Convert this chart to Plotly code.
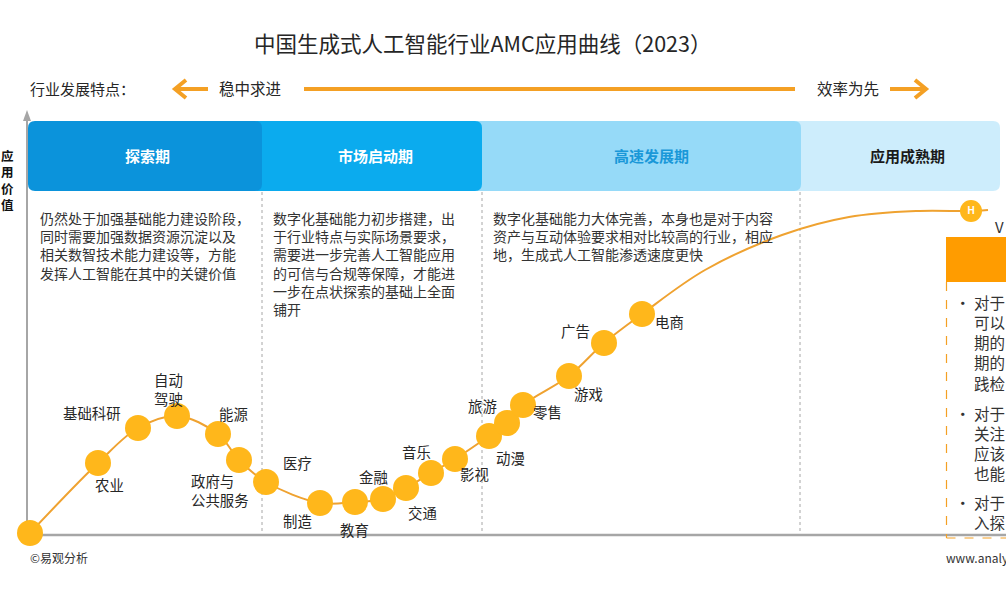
import plotly.graph_objects as go

# ---------------- data ----------------
industries = ["", "农业", "基础科研", "自动驾驶", "能源", "政府与公共服务", "医疗", "制造",
              "教育", "金融", "交通", "音乐", "影视", "动漫", "旅游", "零售", "游戏", "广告", "电商"]
progress = [0, 68, 108, 147, 188, 209, 236, 290, 325, 353, 376, 401, 425, 459, 477, 493, 539, 574, 612]
value = [2, 72, 107, 119, 101, 75, 53, 32, 33, 36, 47, 62, 76, 99, 112, 130, 159, 192, 221]

# continuation of the curve towards maturity (no dots)
tail_progress = [675, 752, 819, 886]
tail_value = [265, 300, 318, 324]
h_progress, h_value = 941, 324
end_progress, end_value = 958, 325

stages = ["探索期", "市场启动期", "高速发展期", "应用成熟期"]
stage_text = [
    ["仍然处于加强基础能力建设阶段，", "同时需要加强数据资源沉淀以及", "相关数智技术能力建设等，方能", "发挥人工智能在其中的关键价值"],
    ["数字化基础能力初步搭建，出", "于行业特点与实际场景要求，", "需要进一步完善人工智能应用", "的可信与合规等保障，才能进", "一步在点状探索的基础上全面", "铺开"],
    ["数字化基础能力大体完善，本身也是对于内容", "资产与互动体验要求相对比较高的行业，相应", "地，生成式人工智能渗透速度更快"],
]
side_groups = [["对于", "可以", "期的", "期的", "践检"],
               ["对于", "关注", "应该", "也能"],
               ["对于", "入探"]]

# ---------------- styles / layout helpers ----------------
FONT = "Noto Sans CJK SC, Microsoft YaHei, sans-serif"
TEXT = "#262626"
DOT = "#FFB71B"
LINE = "#EFA230"
ORANGE = "#F4A024"
GRAY = "#A6A6A6"

# label offsets (pixels, right / down) relative to the dot
label_offsets = {
    "农业": (11, 21), "基础科研": (-46, -16), "自动驾驶": (-9, -27), "能源": (15, -21),
    "政府与公共服务": (-19, 30), "医疗": (31, -20), "制造": (-23, 17), "教育": (-1, 27),
    "金融": (-10, -23), "交通": (16, 24), "音乐": (-15, -22), "影视": (19, 14),
    "动漫": (21, 21), "旅游": (-25, -18), "零售": (24, 6), "游戏": (19, 17),
    "广告": (-29, -13), "电商": (27, 7),
}
label_breaks = {"自动驾驶": "自动<br>驾驶", "政府与公共服务": "政府与<br>公共服务"}

W, H = 1006, 589
OX, OY = 30, 535  # pixel position of the value origin


def X(p):
    return p - OX


def Y(p):
    return OY - p


def rrect(x0, y0, x1, y1, r):
    a, b, c, d = X(x0), Y(y0), X(x1), Y(y1)  # b top (larger), d bottom
    return (f"M {a+r},{b} L {c-r},{b} Q {c},{b} {c},{b-r} L {c},{d+r} Q {c},{d} {c-r},{d} "
            f"L {a+r},{d} Q {a},{d} {a},{d+r} L {a},{b-r} Q {a},{b} {a+r},{b} Z")


fig = go.Figure()

curve_x = progress + tail_progress + [h_progress, end_progress]
curve_y = value + tail_value + [h_value, end_value]
fig.add_trace(go.Scatter(x=curve_x, y=curve_y, mode="lines",
                         line=dict(color=LINE, width=2, shape="spline", smoothing=1),
                         hoverinfo="skip", showlegend=False))
fig.add_trace(go.Scatter(x=progress, y=value, mode="markers",
                         marker=dict(size=26, color=DOT, line=dict(width=0)),
                         hoverinfo="skip", showlegend=False))
fig.add_trace(go.Scatter(x=[h_progress], y=[h_value], mode="markers+text",
                         marker=dict(size=22, color=DOT, line=dict(width=0)),
                         text=["<b>H</b>"], textposition="middle center",
                         textfont=dict(color="white", size=10, family="Arial, Liberation Sans"),
                         hoverinfo="skip", showlegend=False))

shapes = []
annotations = []


def add_text(px, py, txt, size=14, color=TEXT, xanchor="center", bold=False, align="center",
             yanchor="middle"):
    if bold:
        txt = f"<b>{txt}</b>"
    annotations.append(dict(x=X(px), y=Y(py), xref="x", yref="y", text=txt, showarrow=False,
                            xanchor=xanchor, yanchor=yanchor, align=align,
                            font=dict(family=FONT, size=size, color=color)))


# stage bands (drawn right to left so the rounded ends overlap)
band_specs = [
    (788, 1000, "#CDEDFC"),
    (470, 801, "#96DAF8"),
    (250, 482, "#0BABEE"),
    (28, 262, "#0B93DB"),
]
for x0, x1, fill in band_specs:
    shapes.append(dict(type="path", path=rrect(x0, 121, x1, 191, 7), fillcolor=fill,
                       line=dict(width=0), layer="below"))
stage_centers = [147, 375, 651, 907]
stage_colors = ["white", "white", "#1A98D8", "#1A1A1A"]
for name, cx, col in zip(stages, stage_centers, stage_colors):
    add_text(cx, 155, name, size=15, color=col, bold=True)

# dotted stage separators
for sx in [262, 482, 800]:
    shapes.append(dict(type="line", x0=X(sx), x1=X(sx), y0=Y(192), y1=Y(535),
                       line=dict(color=GRAY, width=1, dash="dot"), layer="below"))

# axes
shapes.append(dict(type="line", x0=X(27), x1=X(1006), y0=Y(535), y1=Y(535),
                   line=dict(color=GRAY, width=2.5), layer="below"))
shapes.append(dict(type="line", x0=X(27), x1=X(27), y0=Y(536), y1=Y(118),
                   line=dict(color=GRAY, width=2), layer="below"))
shapes.append(dict(type="path", path=f"M {X(23)},{Y(121)} L {X(27)},{Y(110)} L {X(31)},{Y(121)} Z",
                   fillcolor=GRAY, line=dict(width=0), layer="below"))

# top arrows
shapes.append(dict(type="line", x0=X(176), x1=X(208), y0=Y(89), y1=Y(89),
                   line=dict(color=ORANGE, width=4), layer="below"))
shapes.append(dict(type="path", path=f"M {X(186)},{Y(80)} L {X(175)},{Y(89)} L {X(186)},{Y(98)}",
                   line=dict(color=ORANGE, width=4), layer="below"))
shapes.append(dict(type="line", x0=X(304), x1=X(795), y0=Y(89), y1=Y(89),
                   line=dict(color=ORANGE, width=4), layer="below"))
shapes.append(dict(type="line", x0=X(890), x1=X(924), y0=Y(89), y1=Y(89),
                   line=dict(color=ORANGE, width=4), layer="below"))
shapes.append(dict(type="path", path=f"M {X(915)},{Y(80)} L {X(926)},{Y(89)} L {X(915)},{Y(98)}",
                   line=dict(color=ORANGE, width=4), layer="below"))

# right (cut-off) panel
shapes.append(dict(type="rect", x0=X(946), x1=X(1010), y0=Y(237), y1=Y(282),
                   fillcolor="#FF9C00", line=dict(width=0), layer="below"))
shapes.append(dict(type="line", x0=X(946.5), x1=X(946.5), y0=Y(282), y1=Y(538),
                   line=dict(color=ORANGE, width=1.2, dash="dash"), layer="below"))
shapes.append(dict(type="line", x0=X(946.5), x1=X(1006), y0=Y(538), y1=Y(538),
                   line=dict(color=ORANGE, width=1.2, dash="dash"), layer="below"))

# titles & header texts
add_text(482, 42, "中国生成式人工智能行业AMC应用曲线（2023）", size=21.5)
add_text(28, 88, "行业发展特点：", size=15, xanchor="left")
add_text(250, 88, "稳中求进", size=15.5)
add_text(848, 88, "效率为先", size=15.5)
add_text(7.5, 180, "应<br>用<br>价<br>值", size=12.5, color="#111111", bold=True)

# stage descriptions (one block per stage, line height 1.3em ≈ 18px)
for cx, lines in zip([38, 271, 491], stage_text):
    add_text(cx, 206, "<br>".join(lines), size=14, color="#333333", xanchor="left",
             align="left", yanchor="top")

# side panel text (line height ≈ 20px)
for group, ytop in zip(side_groups, [289, 400, 489]):
    add_text(953, ytop, "<br>".join(["•"] + [""] * (len(group) - 1)), size=15.5, color="#333333",
             xanchor="left", align="left", yanchor="top")
    add_text(972, ytop, "<br>".join(group), size=15.5, color="#333333",
             xanchor="left", align="left", yanchor="top")
add_text(993, 226, "V", size=15, color="#333333", xanchor="left")

# industry labels
for name, xp, yv in zip(industries, progress, value):
    if not name:
        continue
    dx, dy = label_offsets[name]
    annotations.append(dict(x=xp, y=yv, xref="x", yref="y", text=label_breaks.get(name, name),
                            showarrow=False, xshift=dx, yshift=-dy, xanchor="center", yanchor="middle",
                            align="left" if name == "政府与公共服务" else "center",
                            font=dict(family=FONT, size=14.4, color=TEXT)))

# footer
add_text(28, 557, "©易观分析", size=12, color="#333333", xanchor="left")
add_text(944, 557, "www.analysys.cn", size=12, color="#333333", xanchor="left")

fig.update_layout(
    width=W, height=H, margin=dict(l=0, r=0, t=0, b=0, pad=0),
    paper_bgcolor="white", plot_bgcolor="white",
    xaxis=dict(range=[X(0), X(W)], visible=False, fixedrange=True),
    yaxis=dict(range=[Y(H), Y(0)], visible=False, fixedrange=True),
    shapes=shapes, annotations=annotations, showlegend=False,
    font=dict(family=FONT),
)

fig.write_html("out.html", config={"displayModeBar": False},
               post_script="document.body.style.margin='0';")
